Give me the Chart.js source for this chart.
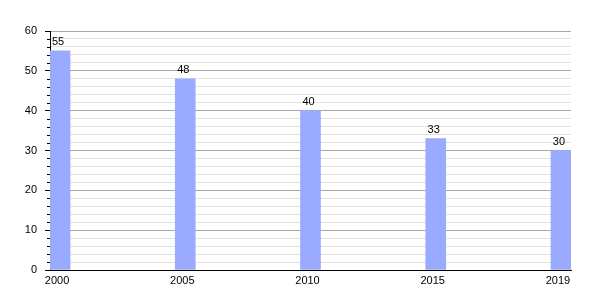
<!DOCTYPE html>
<html>
<head>
<meta charset="utf-8">
<script src="https://cdn.jsdelivr.net/npm/chart.js@4/dist/chart.umd.min.js"></script>
<style>
  html, body { margin: 0; padding: 0; background: #fff; }
  #wrap { width: 600px; height: 300px; }
</style>
</head>
<body>
<div id="wrap"><canvas id="chart" width="600" height="300"></canvas></div>
<script>
const years = ['2000', '2005', '2010', '2015', '2019'];
const values = [55, 48, 40, 33, 30];
const yTicks = [0, 10, 20, 30, 40, 50, 60];

const barColor = '#99aaff';

// value labels over the bars
const barLabels = {
    id: 'barLabels',
    afterDatasetsDraw(chart) {
        const ctx = chart.ctx;
        const meta = chart.getDatasetMeta(0);
        ctx.save();
        ctx.font = '11px "Liberation Sans", Arial, sans-serif';
        ctx.fillStyle = '#000';
        ctx.textAlign = 'center';
        ctx.textBaseline = 'bottom';
        meta.data.forEach((bar, i) => {
            ctx.fillText(String(values[i]), bar.x - 2, bar.y - 3);
        });
        ctx.restore();
    }
};

// short minor tick marks on the y axis
const minorTicks = {
    id: 'minorTicks',
    afterDraw(chart) {
        const y = chart.scales.y;
        const ctx = chart.ctx;
        ctx.save();
        ctx.strokeStyle = '#000';
        ctx.lineWidth = 1;
        y.ticks.forEach(t => {
            if (t.value % 10 === 0) return;
            const py = Math.round(y.getPixelForValue(t.value)) + 0.5;
            ctx.beginPath();
            ctx.moveTo(y.right - 3, py);
            ctx.lineTo(y.right, py);
            ctx.stroke();
        });
        ctx.restore();
    }
};

new Chart(document.getElementById('chart'), {
    type: 'bar',
    data: {
        datasets: [{
            data: values.map((v, i) => ({ x: i, y: v })),
            backgroundColor: barColor,
            borderWidth: 0,
            barThickness: 20
        }]
    },
    options: {
        responsive: false,
        animation: false,
        layout: { padding: { top: 31, right: 29, left: 0, bottom: 0 } },
        plugins: { legend: { display: false }, tooltip: { enabled: false } },
        scales: {
            x: {
                type: 'linear',
                offset: false,
                min: -0.08,
                max: 4.08,
                afterBuildTicks: s => { s.ticks = years.map((_, i) => ({ value: i })); },
                afterFit: s => { s.height = 30; },
                grid: { display: false, drawTicks: false, offset: false },
                border: { display: true, color: '#000', width: 1 },
                ticks: {
                    callback: v => years[v],
                    padding: 4,
                    labelOffset: -3,
                    maxRotation: 0,
                    color: '#000',
                    font: { family: '"Liberation Sans", Arial, sans-serif', size: 11 }
                }
            },
            y: {
                min: 0,
                max: 60,
                afterFit: s => { s.width = 50; },
                grid: {
                    color: c => (c.tick && c.tick.value % 10 === 0) ? '#a8a8a8' : '#e2e2e2',
                    tickColor: c => (c.tick && c.tick.value % 10 === 0) ? '#000' : 'rgba(0,0,0,0)',
                    tickLength: 5
                },
                border: { display: true, color: '#000', width: 1 },
                ticks: {
                    stepSize: 2,
                    autoSkip: false,
                    padding: 8,
                    callback: v => yTicks.includes(v) ? v : '',
                    color: '#000',
                    font: { family: '"Liberation Sans", Arial, sans-serif', size: 11 }
                }
            }
        }
    },
    plugins: [barLabels, minorTicks]
});
</script>
</body>
</html>
